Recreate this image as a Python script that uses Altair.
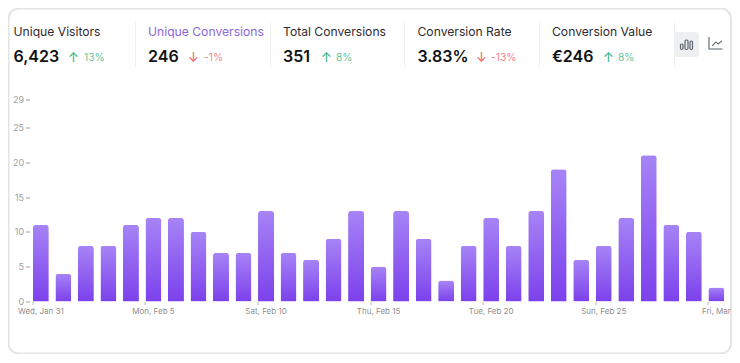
import altair as alt
import pandas as pd

FONT = "Inter"
days = pd.date_range("2024-01-31", "2024-03-01").strftime("%a, %b %-d").tolist()
days[-1] = "Fri, Mar"
conversions = [11, 4, 8, 8, 11, 12, 12, 10, 7, 7, 13, 7, 6, 9, 13, 5, 13, 9, 3, 8, 12, 8, 13, 19, 6, 8, 12, 21, 11, 10, 2]
y_ticks = [0, 5, 10, 15, 20, 25, 29]
metric_names = ["Unique Visitors", "Unique Conversions", "Total Conversions", "Conversion Rate", "Conversion Value"]
metric_values = ["6,423", "246", "351", "3.83%", "€246"]
metric_changes = ["13%", "-1%", "8%", "-13%", "8%"]
metric_up = [True, False, True, False, True]

# layout (page pixels), turned into plot coordinates by the helpers below
PL, PT, PW, PH = 29.6, 99.5, 698, 202
name_x = [13.5, 148, 283, 417.5, 552]
arrow_x = [73.5, 193.5, 326.5, 481.5, 608.5]
pct_x = [84, 204, 336, 491, 618]
sep_x = [135.5, 270.5, 404.5, 539.5, 674.5]

X = lambda v: v - PL
Y = lambda v: v - PT
one = alt.Data(values=[{"a": 0}])


def text(s, x, y, size, color, weight=400, align="left", opacity=1):
    return alt.Chart(one).mark_text(
        font=FONT, fontSize=size, fontWeight=weight, color=color, align=align,
        baseline="alphabetic", opacity=opacity,
    ).encode(x=alt.value(X(x)), y=alt.value(Y(y)), text=alt.value(s))


def box(x0, x1, y0, y1, **kw):
    return alt.Chart(one).mark_rect(**kw).encode(
        x=alt.value(X(x0)), x2=alt.value(X(x1)), y=alt.value(Y(y0)), y2=alt.value(Y(y1))
    )


layers = [box(8.5, 731, 8.5, 353.5, fill="white", stroke="#e4e4e4", strokeWidth=2, cornerRadius=10)]

for i, name in enumerate(metric_names):
    up = metric_up[i]
    accent = "#2fb37c" if up else "#ef5f6b"
    layers += [
        text(name, name_x[i], 36, 12.15, "#7f56d9" if i == 1 else "#1f2124", opacity=0.95 if i != 1 else 0.9),
        text(metric_values[i], name_x[i], 62, 16, "#0f1114", 600),
        text("↑" if up else "↓", arrow_x[i], 61.5, 13, accent, align="center"),
        text(metric_changes[i], pct_x[i], 60.5, 10.3, accent, opacity=0.75),
        box(sep_x[i], sep_x[i] + 0.01, 22, 67, stroke="#f1f1f3", strokeWidth=1),
    ]

layers.append(box(674, 699, 32, 57, fill="#edeff1", cornerRadius=3))
for bx0, bx1, by0 in [(680.5, 683, 44), (685, 688, 40), (690, 692.5, 41)]:
    layers.append(box(bx0, bx1, by0, 49.5, fill="transparent", stroke="#5b6470", strokeWidth=1.2, cornerRadius=1.2))
layers.append(
    alt.Chart(one).mark_point(
        shape="M-1 -0.86 L-1 0.86 L0.93 0.86 M-0.55 0.4 L0 -0.15 L0.3 0.15 L0.85 -0.3",
        size=196, filled=False, stroke="#5b6470", strokeWidth=1.1, opacity=1,
    ).encode(x=alt.value(X(716)), y=alt.value(Y(43)))
)

df = pd.DataFrame({"day": days, "conversions": conversions})
bars = alt.Chart(df).mark_bar(
    cornerRadiusTopLeft=3, cornerRadiusTopRight=3,
    color=alt.Gradient(
        gradient="linear", x1=0, x2=0, y1=0, y2=1,
        stops=[alt.GradientStop(color="#a684f6", offset=0), alt.GradientStop(color="#7c41ec", offset=1)],
    ),
).encode(
    x=alt.X("day:N", sort=days, title=None,
            scale=alt.Scale(paddingInner=0.29, paddingOuter=0.145),
            axis=alt.Axis(values=days[::5], bandPosition=0, labelOffset=0, labelAngle=0, zindex=1,
                          domain=False, grid=False, tickSize=3, tickColor="#b5b5b5", tickWidth=1,
                          labelColor="#8f8f8f", labelFont=FONT, labelFontSize=8, labelPadding=3,
                          labelOverlap=False, labelFlush=False, labelBound=False)),
    y=alt.Y("conversions:Q", title=None,
            scale=alt.Scale(domain=[0, 29], nice=False),
            axis=alt.Axis(values=y_ticks, domain=False, grid=False, tickSize=4, tickColor="#9a9a9a", tickWidth=1, zindex=1,
                          labelColor="#a0a0a0", labelFont=FONT, labelFontSize=9, labelPadding=2,
                          labelFlush=False, labelOverlap=False)),
)
layers.append(bars)

chart = alt.layer(*layers).properties(
    width=PW, height=PH,
    padding={"left": PL - 8, "top": PT - 8, "right": 4.4, "bottom": 52.5},
    autosize=alt.AutoSizeParams(type="none"),
    background="white",
).configure_view(stroke=None)

chart.save("out.html", embed_options={"renderer": "svg", "actions": False})
